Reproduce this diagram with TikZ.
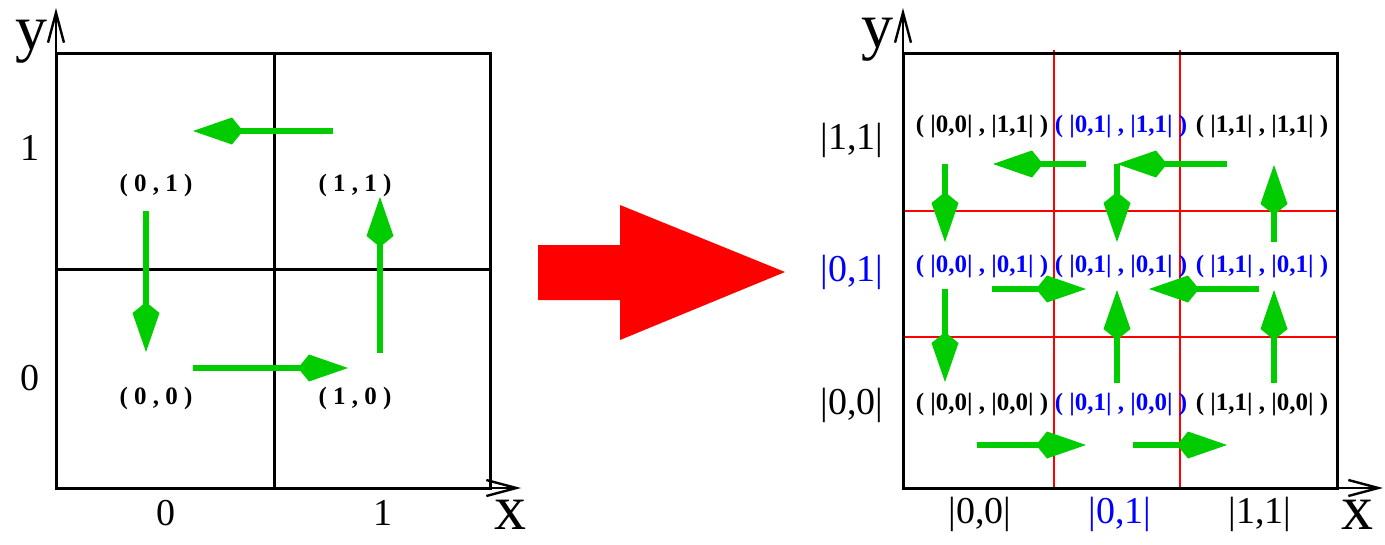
\documentclass[tikz,border=0pt]{standalone}
\usepackage{fontspec}
\setmainfont{Liberation Serif}
\usetikzlibrary{arrows.meta, positioning}
\definecolor{flowgreen}{RGB}{0,204,0}

\begin{document}
\begin{tikzpicture}[x=1pt, y=-1pt,
    cellline/.style={line width=3pt, black},
    axis/.style={line width=2.4pt, -{Straight Barb[length=30pt, width=16pt, line width=2.4pt]}},
    cut/.style={line width=2.6pt, red},
    flow/.style={line width=6pt, flowgreen, -{Kite[length=50pt, width=27pt, inset=11pt]}},
    axislbl/.style={font=\fontsize{64}{64}\selectfont, inner sep=0pt},
    tick/.style={font=\fontsize{38}{38}\selectfont, inner sep=0pt},
    state/.style={font=\fontsize{25}{25}\selectfont\bfseries, inner sep=0pt},
    pair/.style={font=\fontsize{25}{25}\selectfont\bfseries, inner sep=0pt}
]
\useasboundingbox (0,0) rectangle (1385,544);

% Left panel: grid and axes
\coordinate (lo) at (56,488);
\coordinate (lytop) at (56,8);
\coordinate (lxend) at (521,488);
\draw[cellline] (56,53) rectangle (490,488);
\draw[cellline] (274,53) -- (274,488);
\draw[cellline] (56,269) -- (490,269);
\draw[axis] (lo) -- (lytop);
\draw[axis] (lo) -- (lxend);
\node[axislbl] (ly) at (32,42) {y};
\node[axislbl] (lx) at (510,515) {x};

% Left panel: ticks
\node[tick] (lt1) at (30,148) {1};
\node[tick] (lt0) at (30,378) {0};
\node[tick] (lb0) at (166,513) {0};
\node[tick] (lb1) at (383,513) {1};

% States
\node[state] (s01) at (156,185) {( 0 , 1 )};
\node[state] (s11) at (355,185) {( 1 , 1 )};
\node[state] (s00) at (156,398) {( 0 , 0 )};
\node[state] (s10) at (355,398) {( 1 , 0 )};

% Flow
\draw[flow] (333,131) -- (193,131);
\draw[flow] (146,211) -- (146,352);
\draw[flow] (193,368) -- (348,368);
\draw[flow] (380,353) -- (380,197);

% Big arrow
\fill[red] (538,245) -- (620,245) -- (620,205) -- (785,272) -- (620,340) -- (620,300) -- (538,300) -- cycle;

% Right panel: cuts, grid and axes
\draw[cut] (1054,50) -- (1054,488);
\draw[cut] (1180,50) -- (1180,488);
\draw[cut] (903,211) -- (1337,211);
\draw[cut] (903,337) -- (1337,337);
\coordinate (ro) at (903,488);
\coordinate (rytop) at (903,8);
\coordinate (rxend) at (1383,488);
\draw[cellline] (903,53) rectangle (1337,488);
\draw[axis] (ro) -- (rytop);
\draw[axis] (ro) -- (rxend);
\node[axislbl] (ry) at (877,40) {y};
\node[axislbl] (rx) at (1357,515) {x};

% Right panel: class labels
\node[tick] (r11) at (852,140) {|1,1|};
\node[tick, blue] (r01) at (852,272) {|0,1|};
\node[tick] (r00) at (852,405) {|0,0|};
\node[tick] (c00) at (980,514) {|0,0|};
\node[tick, blue] (c01) at (1120,514) {|0,1|};
\node[tick] (c11) at (1260,514) {|1,1|};

% Pairs
\node[pair] (p0011) at (982,127) {( |0,0| , |1,1| )};
\node[pair, blue] (p0111) at (1121,127) {( |0,1| , |1,1| )};
\node[pair] (p1111) at (1262,127) {( |1,1| , |1,1| )};
\node[pair, blue] (p0001) at (982,267) {( |0,0| , |0,1| )};
\node[pair, blue] (p0101) at (1121,267) {( |0,1| , |0,1| )};
\node[pair, blue] (p1101) at (1262,267) {( |1,1| , |0,1| )};
\node[pair] (p0000) at (982,405) {( |0,0| , |0,0| )};
\node[pair, blue] (p0100) at (1121,405) {( |0,1| , |0,0| )};
\node[pair] (p1100) at (1262,405) {( |1,1| , |0,0| )};

% Flow
\draw[flow] (1086,164) -- (993,164);
\draw[flow] (1227,164) -- (1117,164);
\draw[flow] (945,164) -- (945,242);
\draw[flow] (1117,164) -- (1117,242);
\draw[flow] (1274,242) -- (1274,165);
\draw[flow] (992,289) -- (1086,289);
\draw[flow] (1259,289) -- (1149,289);
\draw[flow] (945,289) -- (945,382);
\draw[flow] (1117,383) -- (1117,290);
\draw[flow] (1274,383) -- (1274,290);
\draw[flow] (977,445) -- (1086,445);
\draw[flow] (1133,445) -- (1227,445);
\end{tikzpicture}
\end{document}
